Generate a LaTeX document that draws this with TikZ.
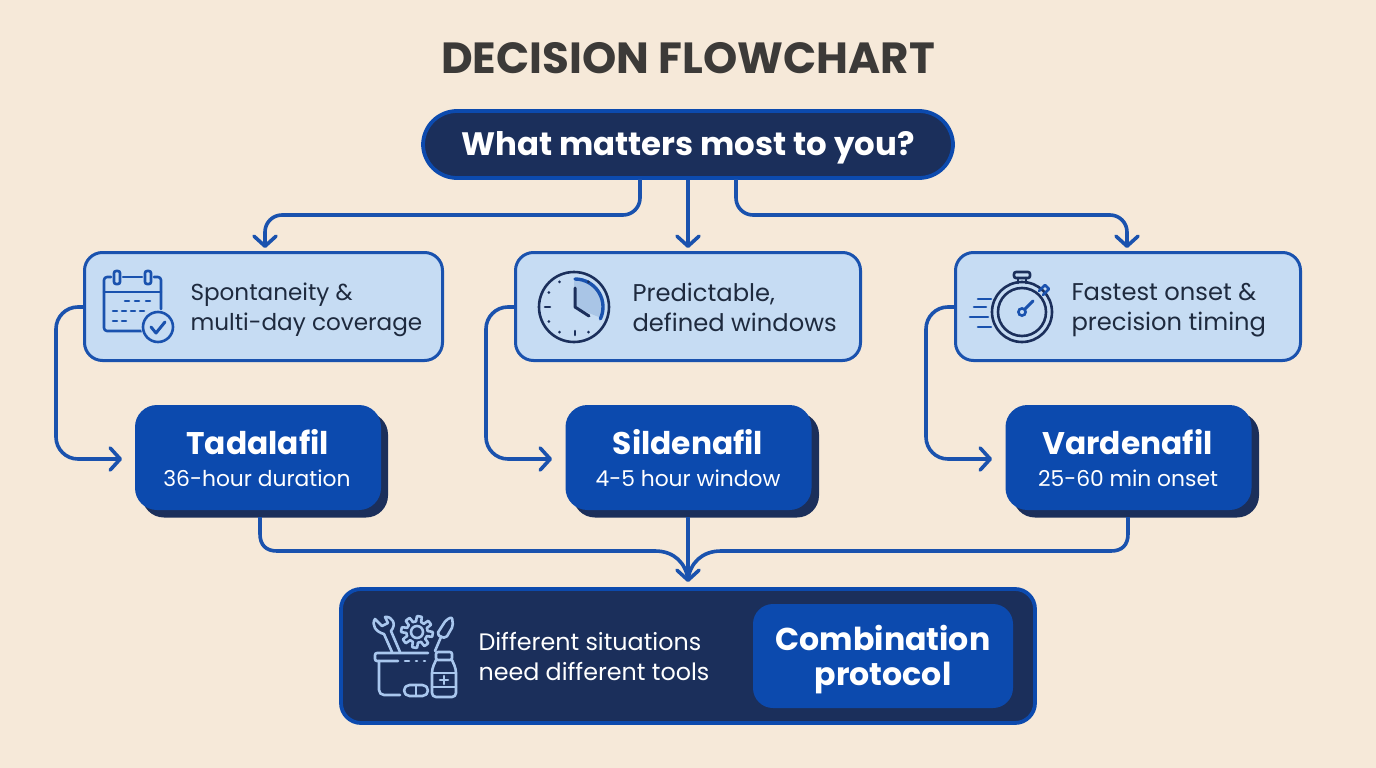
\documentclass[tikz,border=0pt]{standalone}
\usepackage{fontspec}
\setmainfont{Poppins}
\usetikzlibrary{arrows.meta}
\definecolor{bgc}{HTML}{F6E9D9}
\definecolor{navy}{HTML}{1B2F5B}
\definecolor{blue1}{HTML}{0C4AAE}
\definecolor{line1}{HTML}{1A52AE}
\definecolor{pale}{HTML}{C6DCF3}
\definecolor{wedge}{HTML}{A9C5E6}
\definecolor{ink}{HTML}{1E2A3E}
\definecolor{titlec}{HTML}{3C3A38}
\definecolor{iconlight}{HTML}{A9C7EE}
\tikzset{
 x=1pt,y=-1pt,
 conn/.style={draw=line1,line width=3.6pt,rounded corners=17pt},
 loopconn/.style={conn,rounded corners=22pt},
 arr/.style={-{Straight Barb[length=10pt,width=22pt,line width=3.6pt,round]}},
 optbox/.style={draw=line1,line width=3pt,fill=pale,rounded corners=18pt,minimum height=108pt},
 drugbox/.style={fill=blue1,rounded corners=22pt,minimum width=246pt,minimum height=105pt},
 drugshadow/.style={fill=navy,rounded corners=22pt,minimum width=246pt,minimum height=105pt},
 opttext/.style={text=ink,align=left,anchor=west},
 drugname/.style={text=white,font=\fontsize{31.3}{36}\selectfont\bfseries},
 drugsub/.style={text=white,font=\fontsize{21.8}{26}\selectfont},
 icon/.style={draw=line1,line width=2.6pt,line cap=round,line join=round},
 icond/.style={draw=navy,line width=2.6pt,line cap=round,line join=round},
 iconl/.style={draw=iconlight,line width=2.6pt,line cap=round,line join=round},
}
\begin{document}
\begin{tikzpicture}
\useasboundingbox (0,0) rectangle (1376,768);
\fill[bgc] (0,0) rectangle (1376,768);
\node[text=titlec,font=\fontsize{43.6}{50}\selectfont\bfseries] (title) at (688,58) {DECISION FLOWCHART};
% boxes
\node[draw=blue1,line width=3.8pt,fill=navy,rounded corners=34pt,minimum width=530pt,minimum height=67pt] (q) at (688,144.5) {};
\node[text=white,font=\fontsize{32.4}{38}\selectfont\bfseries] (qt) at (688,148) {What matters most to you?};
\node[optbox,minimum width=358pt] (o1) at (263.5,306.5) {};
\node[optbox,minimum width=345pt] (o2) at (688,306.5) {};
\node[optbox,minimum width=345pt] (o3) at (1128,306.5) {};
\node[opttext,font=\fontsize{23.1}{30}\selectfont] (o1t) at (187,310) {Spontaneity \&\\multi-day coverage};
\node[opttext,font=\fontsize{24.2}{30}\selectfont] (o2t) at (629,307) {Predictable,\\defined windows};
\node[opttext,font=\fontsize{24.2}{30}\selectfont] (o3t) at (1068,310) {Fastest onset \&\\precision timing};
\node[drugshadow] (s1) at (265,465) {};
\node[drugshadow] (s2) at (696,465) {};
\node[drugshadow] (s3) at (1136,465) {};
\node[drugbox] (d1) at (258,457.5) {};
\node[drugbox] (d2) at (688.5,457.5) {};
\node[drugbox] (d3) at (1128.5,457.5) {};
\node[drugname] (d1n) at (257.5,442) {Tadalafil};
\node[drugname] (d2n) at (688,442) {Sildenafil};
\node[drugname] (d3n) at (1127.5,442) {Vardenafil};
\node[drugsub] (d1s) at (257,478) {36-hour duration};
\node[drugsub] (d2s) at (688,478) {4-5 hour window};
\node[drugsub] (d3s) at (1128,478) {25-60 min onset};
\node[draw=blue1,line width=3.8pt,fill=navy,rounded corners=20pt,minimum width=694pt,minimum height=134pt] (bot) at (688,656) {};
\node[fill=blue1,rounded corners=20pt,minimum width=260pt,minimum height=104pt] (combo) at (883,656) {};
\node[text=white,align=center,font=\fontsize{31.6}{35}\selectfont\bfseries] (combot) at (883,660) {Combination\\protocol};
\node[text=white,align=left,anchor=west,font=\fontsize{23.8}{30}\selectfont] (diff) at (475,656.5) {Different situations\\need different tools};
% connector anchors
\coordinate (ql) at (640,179);
\coordinate (qr) at (736,179);
\coordinate (a1) at (265,248);
\coordinate (a2) at (688,248);
\coordinate (a3) at (1127,248);
\coordinate (in1) at (122,459);
\coordinate (in2) at (552,459);
\coordinate (in3) at (992,459);
\coordinate (bl) at (260,517);
\coordinate (bm) at (688,517);
\coordinate (br) at (1128,517);
\coordinate (bt) at (688,582);
\coordinate (out1) at (84,307);
\coordinate (out2) at (515,307);
\coordinate (out3) at (955,307);
\coordinate (mrg) at (688,580);
% connectors
\draw[conn,arr] (ql) -- (640,215) -- (265,215) -- (a1);
\draw[conn,arr] (q.south) -- (a2);
\draw[conn,arr] (qr) -- (736,215) -- (1127,215) -- (a3);
\draw[loopconn,arr] (out1) -- (56,307) -- (56,459) -- (in1);
\draw[loopconn,arr] (out2) -- (486,307) -- (486,459) -- (in2);
\draw[loopconn,arr] (out3) -- (926,307) -- (926,459) -- (in3);
\draw[draw=line1,line width=3.6pt] (bl) -- (260,534) .. controls (260,545) and (266,551) .. (277,551) -- (655,551) .. controls (674,551) and (686,563) .. (mrg);
\draw[draw=line1,line width=3.6pt] (br) -- (1128,534) .. controls (1128,545) and (1122,551) .. (1111,551) -- (721,551) .. controls (702,551) and (690,563) .. (mrg);
\draw[conn,arr] (bm) -- (bt);
% calendar
\draw[icon,rounded corners=3pt] (111,277) -- (104,277) -- (104,331) -- (143,331);
\draw[icon,rounded corners=3pt] (123,277) -- (142,277);
\draw[icon,rounded corners=3pt] (154,277) -- (161,277) -- (161,309);
\draw[icon] (104,292) -- (161,292);
\draw[icon,fill=pale,rounded corners=2pt] (114,271) rectangle (120,284);
\draw[icon,fill=pale,rounded corners=2pt] (145,271) rectangle (151,284);
\foreach \x in {125,135,146} \draw[icon] (\x,301) -- (\x+4,301);
\foreach \x in {113,122,131,140} \draw[icon] (\x,311) -- (\x+4,311);
\foreach \x in {113,122} \draw[icon] (\x,321) -- (\x+4,321);
\fill[pale] (158,327) circle (17);
\draw[icon] (158,327) circle (15);
\draw[icon,line width=3pt] (151,327) -- (156,333) -- (165,322);
% clock
\fill[wedge] (574,307) -- (574,279) arc[start angle=-90,end angle=22,radius=28] -- cycle;
\draw[icond] (574,307) circle (35);
\draw[line1,line width=3.4pt,line cap=round] (575,279) arc[start angle=-90,end angle=25,radius=28];
\draw[icond,line width=3pt] (575,288) -- (575,307) -- (589,316);
\draw[icond] (545,307) -- (550,307);
\draw[icond] (575,331) -- (575,335);
\foreach \a in {60,120,150,210,240,300}
  \fill[navy] ({574+29*cos(\a)},{307+29*sin(\a)}) circle (1.4);
% stopwatch
\draw[icond] (1022,312) circle (30);
\draw[icond] (1022,312) circle (24);
\draw[icond,rounded corners=2pt] (1014,272) rectangle (1030,278);
\draw[icond] (1018,278) -- (1018,283);
\draw[icond] (1026,278) -- (1026,283);
\draw[icon] (1039,291) -- (1045,285) -- (1049,289) -- (1043,295);
\draw[line1,line width=3pt,line cap=round] (1025,309) -- (1033,301);
\draw[line1,line width=2.6pt] (1022,312) circle (3.6);
\draw[icon] (978,299) -- (991,299);
\draw[icon] (974,307) -- (986,307);
\draw[icon] (970,317) -- (988,317);
\draw[icon] (978,327) -- (991,327);
% toolbox
\draw[iconl,rounded corners=2pt] (428,653) -- (375,653) -- (375,661) -- (398,661);
\draw[iconl] (405,661) -- (409,661) (416,661) -- (417,661) (424,661) -- (425,661);
\draw[iconl,rounded corners=5pt] (379,661) -- (379,695) -- (400,695);
\draw[iconl,rounded corners=5.5pt] (404,685) rectangle (428,696);
\draw[iconl] (416,685) -- (416,696);
\draw[iconl,rounded corners=4pt] (436,660) -- (432,669) -- (432,697) -- (456,697) -- (456,669) -- (452,660);
\draw[iconl,rounded corners=2pt] (436,652) rectangle (452,660);
\draw[iconl] (432,673) -- (456,673) (432,687) -- (456,687);
\draw[iconl] (444,676) -- (444,684) (440,680) -- (448,680);
\draw[iconl] (417,632) circle (6);
\draw[iconl] plot[samples=145,domain=0:360,variable=\t] ({417+(13.2+2.6*sign(sin(8*\t+20)))*cos(\t)},{632+(13.2+2.6*sign(sin(8*\t+20)))*sin(\t)}) -- cycle;
\draw[iconl] (392,652) -- (384,634) .. controls (376,632) and (371,625) .. (375,619) -- (382,626) -- (388,623) -- (385,617) .. controls (392,616) and (397,624) .. (391,631) -- (400,652);
\draw[iconl] (435,651) -- (441,637);
\draw[iconl,rounded corners=2pt] (441,637) -- (437,634) -- (446,620) -- (452,617) -- (453,626) -- (446,638) -- cycle;
\end{tikzpicture}
\end{document}
